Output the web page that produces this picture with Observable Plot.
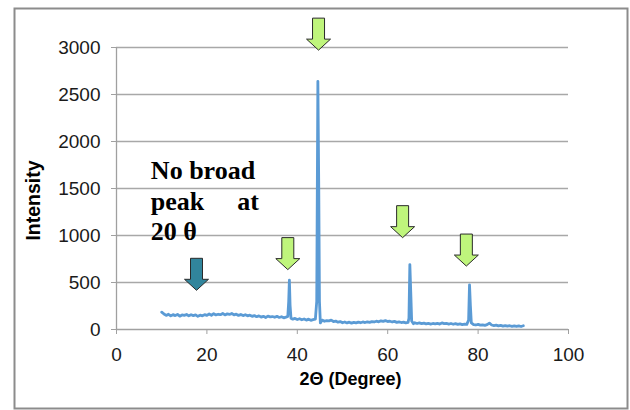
<!DOCTYPE html>
<html>
<head>
<meta charset="utf-8">
<script src="https://cdn.jsdelivr.net/npm/d3@7"></script>
<script src="https://cdn.jsdelivr.net/npm/@observablehq/plot@0.6"></script>
<style>
  html, body { margin: 0; padding: 0; background: #fff; }
  svg { display: block; }
</style>
</head>
<body>
<div id="chart"></div>
<script>
// XRD pattern: 2θ (degree) vs intensity
const twoTheta = [
  10.0,10.5,11.0,11.5,12.0,12.5,13.0,13.5,14.0,14.5,15.0,15.5,16.0,16.5,17.0,17.5,18.0,18.5,19.0,19.5,
  20.0,20.5,21.0,21.5,22.0,22.5,23.0,23.5,24.0,24.5,25.0,25.5,26.0,26.5,27.0,27.5,28.0,28.5,29.0,29.5,
  30.0,30.5,31.0,31.5,32.0,32.5,33.0,33.5,34.0,34.5,35.0,35.5,36.0,36.5,37.0,37.5,37.9,38.1,38.25,38.4,38.6,
  39.0,39.5,40.0,40.5,41.0,41.5,42.0,42.5,43.0,43.5,44.0,44.3,44.55,44.75,44.9,45.1,45.5,
  46.0,46.5,47.0,47.5,48.0,48.5,49.0,49.5,50.0,50.5,51.0,51.5,52.0,52.5,53.0,53.5,54.0,54.5,
  55.0,55.5,56.0,56.5,57.0,57.5,58.0,58.5,59.0,59.5,60.0,60.5,61.0,61.5,62.0,62.5,63.0,63.5,64.0,64.5,
  64.7,64.9,65.1,65.3,65.7,66.0,66.5,67.0,67.5,68.0,68.5,69.0,69.5,70.0,70.5,71.0,71.5,72.0,72.5,
  73.0,73.5,74.0,74.5,75.0,75.5,76.0,76.5,77.0,77.5,77.9,78.1,78.3,78.5,79.0,79.5,80.0,80.5,81.0,81.5,
  82.0,82.5,83.0,83.5,84.0,84.5,85.0,85.5,86.0,86.5,87.0,87.5,88.0,88.5,89.0,89.5,90.0
];
const intensity = [
  185,165,150,162,145,158,148,160,142,155,150,160,145,157,148,155,140,152,146,158,
  150,165,152,168,155,162,158,170,155,166,160,170,155,163,150,160,148,157,145,152,
  140,148,136,145,132,140,128,142,135,138,130,140,128,136,124,132,140,300,525,260,120,
  110,118,106,115,104,112,100,110,98,105,110,300,2640,1500,300,70,100,
  88,95,92,100,85,90,78,84,72,80,70,78,68,76,70,78,72,80,
  74,82,76,84,80,88,82,92,86,94,85,88,80,86,76,82,74,78,70,76,
  120,690,400,90,62,72,64,70,62,68,60,66,58,64,60,66,58,70,62,
  66,58,64,56,62,54,60,52,58,55,100,475,250,70,52,48,54,46,50,44,
  52,68,48,42,46,38,44,36,42,35,40,34,38,33,38,32,40
];
const xTicks = [0, 20, 40, 60, 80, 100];
const yTicks = [0, 500, 1000, 1500, 2000, 2500, 3000];

// Arrow markers (tip positions in data units)
const peakArrowX = [44.7, 37.9, 63.3, 77.4];
const peakArrowY = [2972, 637, 977, 675];
const noPeakArrowX = [17.7];
const noPeakArrowY = [417];

// Annotation text
const noteText = ["No broad", "peak", "at", "20 θ"];
const noteX = [7.6, 7.6, 31.5, 7.6];
const noteY = [1691, 1362, 1362, 1036];
const noteAnchor = ["start", "start", "end", "start"];

const scan = twoTheta.map((x, i) => ({x, y: intensity[i]}));
const peakArrows = peakArrowX.map((x, i) => ({x, y: peakArrowY[i]}));
const noPeakArrows = noPeakArrowX.map((x, i) => ({x, y: noPeakArrowY[i]}));
const notes = noteText.map((t, i) => ({t, x: noteX[i], y: noteY[i], a: noteAnchor[i]}));

// Block arrow pointing down, tip at origin
const downArrow = {
  draw(context) {
    context.moveTo(-6, -32);
    context.lineTo(6, -32);
    context.lineTo(6, -11);
    context.lineTo(12, -11);
    context.lineTo(0, 0);
    context.lineTo(-12, -11);
    context.lineTo(-6, -11);
    context.closePath();
  }
};

const noteStyle = {x: "x", y: "y", text: "t", lineAnchor: "middle",
  fontFamily: "'Liberation Serif', 'Times New Roman', serif", fontWeight: "bold", fontSize: 26, fill: "#000"};

const chart = Plot.plot({
  width: 630,
  height: 410,
  marginLeft: 116,
  marginRight: 62,
  marginTop: 47,
  marginBottom: 81,
  style: {fontFamily: "'Liberation Sans', Arial, sans-serif", background: "#fff"},
  x: {domain: [0, 100]},
  y: {domain: [0, 3000]},
  marks: [
    Plot.frame({stroke: "#8c8c8c", strokeWidth: 2, insetLeft: -102, insetTop: -39, insetRight: -59, insetBottom: -79}),
    Plot.gridY(yTicks.filter(d => d > 0), {stroke: "#a8a8a8", strokeOpacity: 1, strokeWidth: 1.3}),
    Plot.ruleX([0], {stroke: "#a0a0a0", strokeWidth: 1.3}),
    Plot.ruleY([0], {stroke: "#a0a0a0", strokeWidth: 1.3}),
    Plot.axisX(xTicks, {tickSize: 5, tickPadding: 13, stroke: "#a0a0a0", fill: "#1a1a1a", fontSize: 19, tickFormat: d => String(d), label: null}),
    Plot.axisY(yTicks, {tickSize: 5, tickPadding: 11, stroke: "#a0a0a0", fill: "#1a1a1a", fontSize: 19, tickFormat: d => String(d), label: null}),
    Plot.line(scan, {x: "x", y: "y", stroke: "#5b9bd5", strokeWidth: 2.8}),
    Plot.dot(peakArrows, {x: "x", y: "y", symbol: downArrow, fill: "#bff57c", stroke: "#2a2a2a", strokeWidth: 1, r: 10}),
    Plot.dot(noPeakArrows, {x: "x", y: "y", symbol: downArrow, fill: "#31859c", stroke: "#2a2a2a", strokeWidth: 1, r: 10}),
    Plot.text(notes.filter(d => d.a === "start"), {...noteStyle, textAnchor: "start"}),
    Plot.text(notes.filter(d => d.a === "end"), {...noteStyle, textAnchor: "end"}),
    Plot.text(["Intensity"], {frameAnchor: "left", rotate: -90, dx: -83, dy: 12, fontSize: 19.5, fontWeight: "bold", fill: "#000", textAnchor: "middle", lineAnchor: "middle"}),
    Plot.text(["2Θ (Degree)"], {frameAnchor: "bottom", dx: 8, dy: 50, fontSize: 18, fontWeight: "bold", fill: "#000", textAnchor: "middle", lineAnchor: "middle"})
  ]
});
document.getElementById("chart").append(chart);
</script>
</body>
</html>
